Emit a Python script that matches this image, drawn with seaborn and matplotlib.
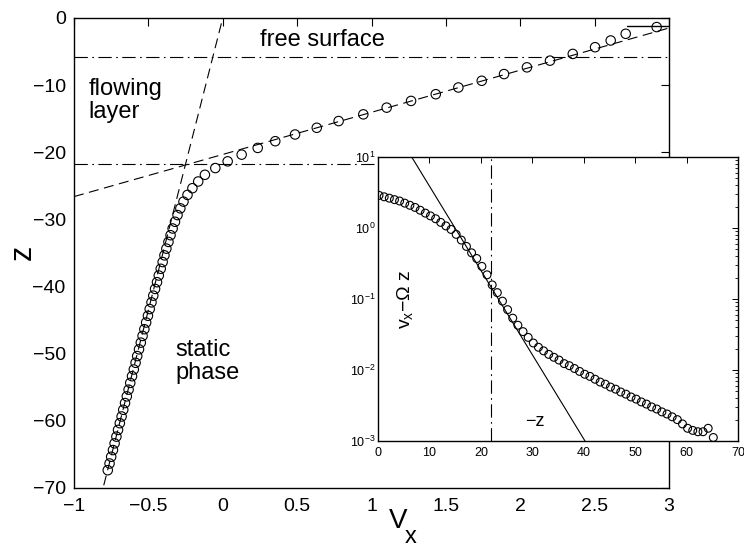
import matplotlib
matplotlib.use("Agg")
import matplotlib.pyplot as plt
import seaborn as sns
from matplotlib.ticker import MultipleLocator, LogLocator, NullFormatter, FixedLocator

# ---------------- data ----------------
# main panel: depth z and velocity V_x
z = [-1.35, -2.35, -3.35, -4.35, -5.35, -6.35, -7.35, -8.35, -9.35, -10.35,
     -11.35, -12.35, -13.35, -14.35, -15.35, -16.35, -17.35, -18.35, -19.35, -20.35,
     -21.35, -22.35, -23.35, -24.35, -25.35, -26.35, -27.35, -28.35, -29.35, -30.35,
     -31.35, -32.35, -33.35, -34.35, -35.35, -36.35, -37.35, -38.35, -39.35, -40.35,
     -41.35, -42.35, -43.35, -44.35, -45.35, -46.35, -47.35, -48.35, -49.35, -50.35,
     -51.35, -52.35, -53.35, -54.35, -55.35, -56.35, -57.35, -58.35, -59.35, -60.35,
     -61.35, -62.35, -63.35, -64.35, -65.35, -66.35, -67.35]
vx = [2.917, 2.709, 2.608, 2.503, 2.353, 2.200, 2.045, 1.891, 1.741, 1.584,
      1.432, 1.266, 1.102, 0.945, 0.779, 0.632, 0.486, 0.353, 0.235, 0.127,
      0.033, -0.050, -0.120, -0.165, -0.204, -0.237, -0.264, -0.285, -0.304, -0.321,
      -0.337, -0.351, -0.365, -0.379, -0.392, -0.404, -0.417, -0.430, -0.442, -0.455,
      -0.467, -0.479, -0.491, -0.503, -0.515, -0.527, -0.539, -0.551, -0.563, -0.575,
      -0.586, -0.598, -0.610, -0.622, -0.633, -0.645, -0.657, -0.669, -0.680, -0.692,
      -0.704, -0.715, -0.727, -0.738, -0.750, -0.761, -0.773]

# main panel reference lines
static_fit_x = [-0.80, 0.0]
static_fit_z = [-69.6, 0.0]
flow_fit_x = [-1.0, 3.0]
flow_fit_z = [-26.6, -1.49]
boundary_top_z = -5.8
boundary_bottom_z = -21.8
surface_x = [2.72, 3.0]
surface_z = [-1.25, -1.25]

# inset: -z versus v_x - Omega z
depth = [0.2, 1.2, 2.2, 3.2, 4.2, 5.2, 6.2, 7.2, 8.2, 9.2,
         10.2, 11.2, 12.2, 13.2, 14.2, 15.2, 16.2, 17.2, 18.2, 19.2,
         20.2, 21.2, 22.2, 23.2, 24.2, 25.2, 26.2, 27.2, 28.2, 29.2,
         30.2, 31.2, 32.2, 33.2, 34.2, 35.2, 36.2, 37.2, 38.2, 39.2,
         40.2, 41.2, 42.2, 43.2, 44.2, 45.2, 46.2, 47.2, 48.2, 49.2,
         50.2, 51.2, 52.2, 53.2, 54.2, 55.2, 56.2, 57.2, 58.2, 59.2,
         60.2, 61.2, 62.2, 63.2, 64.2, 65.2]
excess = [2.88, 2.75, 2.63, 2.51, 2.40, 2.24, 2.09, 1.95, 1.78, 1.62,
          1.48, 1.35, 1.20, 1.07, 0.955, 0.813, 0.676, 0.550, 0.447, 0.372,
          0.288, 0.219, 0.158, 0.123, 0.0933, 0.0708, 0.0537, 0.0427, 0.0347, 0.0288,
          0.0240, 0.0209, 0.0186, 0.0166, 0.0151, 0.0138, 0.0123, 0.0115, 0.0105, 0.00955,
          0.00871, 0.00813, 0.00741, 0.00676, 0.00631, 0.00575, 0.00537, 0.00490, 0.00457, 0.00417,
          0.00389, 0.00355, 0.00331, 0.00302, 0.00282, 0.00257, 0.00240, 0.00219, 0.00200, 0.00174,
          0.00151, 0.00141, 0.00135, 0.00135, 0.00151, 0.00112]
exp_fit_x = [6.55, 40.25]
exp_fit_y = [10.0, 0.001]
inset_boundary_x = 22.0

main_xticks = [-1, -0.5, 0, 0.5, 1, 1.5, 2, 2.5, 3]
main_xticklabels = ["\u22121", "\u22120.5", "0", "0.5", "1", "1.5", "2", "2.5", "3"]

# ---------------- style ----------------
sns.set_theme(style="white")
plt.rcParams["font.family"] = ["Liberation Sans", "DejaVu Sans"]
plt.rcParams["mathtext.fontset"] = "custom"
plt.rcParams["mathtext.rm"] = "Liberation Sans"
plt.rcParams["mathtext.it"] = "Liberation Sans"
plt.rcParams["mathtext.bf"] = "Liberation Sans:bold"
plt.rcParams["axes.unicode_minus"] = True
for key in ["text.color", "axes.labelcolor", "xtick.color", "ytick.color",
            "xtick.labelcolor", "ytick.labelcolor", "axes.edgecolor"]:
    plt.rcParams[key] = "black"

W, H = 744, 551
fig = plt.figure(figsize=(W / 100, H / 100), dpi=100)
fig.patch.set_facecolor("white")

ax = fig.add_axes([74 / W, (H - 488) / H, 595 / W, 470 / H])
axin = fig.add_axes([378 / W, (H - 441) / H, 360 / W, 284 / H])

lw_ref = 0.8
dash = (9, 5)
dashdot = (12, 4, 1.5, 4)

# ---------------- main panel ----------------
ax.plot(flow_fit_x, [boundary_top_z] * 2, color="black", lw=lw_ref, dashes=dashdot, zorder=2)
ax.plot(flow_fit_x, [boundary_bottom_z] * 2, color="black", lw=lw_ref, dashes=dashdot, zorder=2)
ax.plot(static_fit_x, static_fit_z, color="black", lw=lw_ref, dashes=dash, zorder=2)
ax.plot(flow_fit_x, flow_fit_z, color="black", lw=lw_ref, dashes=dash, zorder=2)
ax.plot(surface_x, surface_z, color="black", lw=1.0, zorder=2)

sns.scatterplot(x=vx, y=z, ax=ax, marker="o", s=46, facecolor="none",
                edgecolor="black", linewidth=0.8, zorder=3, legend=False)

ax.set_xlim(-1, 3)
ax.set_ylim(-70, 0)
ax.xaxis.set_major_locator(FixedLocator(main_xticks))
ax.set_xticklabels(main_xticklabels)
ax.yaxis.set_major_locator(MultipleLocator(10))
ax.tick_params(axis="both", which="major", direction="in", length=6, width=0.8,
               top=True, right=True, labelsize=14, colors="black")
ax.tick_params(axis="x", pad=7)
ax.tick_params(axis="y", pad=6)
for sp in ax.spines.values():
    sp.set_color("black")
    sp.set_linewidth(1.0)
ax.set_xlabel("")
ax.set_ylabel("")

ax.text(0.25, -1.6, "free surface", fontsize=17, ha="left", va="top", color="black")
ax.text(-0.90, -9.0, "flowing\nlayer", fontsize=17, ha="left", va="top",
        linespacing=1.05, color="black")
ax.text(-0.32, -47.8, "static\nphase", fontsize=17, ha="left", va="top",
        linespacing=1.05, color="black")

fig.text(23 / W, 1 - 252 / H, "z", fontsize=22, rotation=90, ha="center",
         va="center", color="black")
fig.text(398 / W, 1 - 521 / H, "V", fontsize=20, ha="center", va="center", color="black")
fig.text(411 / W, 1 - 537 / H, "x", fontsize=17, ha="center", va="center", color="black")

# ---------------- inset ----------------
axin.set_facecolor("white")
axin.set_yscale("log")
axin.plot(exp_fit_x, exp_fit_y, color="black", lw=0.8, zorder=2)
axin.axvline(inset_boundary_x, color="black", lw=0.8, dashes=dashdot, zorder=2)
sns.scatterplot(x=depth, y=excess, ax=axin, marker="o", s=32, facecolor="none",
                edgecolor="black", linewidth=0.8, zorder=3, legend=False)
axin.set_xlim(0, 70)
axin.set_ylim(1e-3, 1e1)
axin.xaxis.set_major_locator(MultipleLocator(10))
axin.yaxis.set_major_locator(LogLocator(base=10, numticks=10))
axin.yaxis.set_minor_locator(LogLocator(base=10, subs=range(2, 10), numticks=20))
axin.yaxis.set_minor_formatter(NullFormatter())
axin.tick_params(axis="both", which="major", direction="in", length=4, width=0.7,
                 top=True, right=True, labelsize=9, colors="black")
axin.tick_params(axis="both", which="minor", direction="in", length=2, width=0.6,
                 top=True, right=True)
axin.tick_params(axis="x", pad=4)
axin.tick_params(axis="y", pad=2)
for sp in axin.spines.values():
    sp.set_color("black")
    sp.set_linewidth(1.0)
axin.set_xlabel("")
axin.set_ylabel("")
axin.text(0.075, 0.5, "v$_\\mathregular{x}$\u2212\u03a9 z", transform=axin.transAxes,
          rotation=90, fontsize=14, ha="center", va="center", color="black")
axin.text(30.5, 1.9e-3, "\u2212z", fontsize=13, ha="center", va="center", color="black")

fig.savefig("out.png", dpi=100, facecolor="white")
